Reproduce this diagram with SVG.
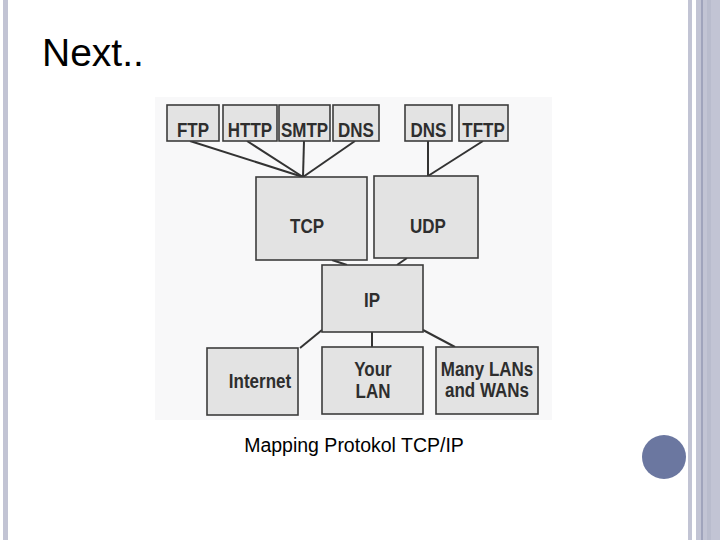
<svg xmlns="http://www.w3.org/2000/svg" width="720" height="540" viewBox="0 0 720 540">
<style>
.box{fill:#e3e3e3;stroke:#3c3c3c;stroke-width:1.6}
.lbl{font-family:"Liberation Sans",Arial,sans-serif;font-weight:bold;font-size:17px;fill:#2e2e2e;text-anchor:middle}
.conn line{stroke:#333;stroke-width:2}
.bar{fill:#c2c4d4}
</style>
<rect width="720" height="540" fill="#ffffff"/>
<rect class="bar" x="3" y="0" width="5" height="540"/>
<rect class="bar" x="688" y="0" width="4" height="540"/>
<rect class="bar" x="696" y="0" width="24" height="540"/>
<rect x="707" y="0" width="4" height="540" fill="#b9bccd"/>
<line x1="702" y1="0" x2="702" y2="540" stroke="#7e84a4" stroke-width="1"/>
<circle cx="664" cy="457" r="22" fill="#6b77a0"/>
<text x="42" y="66" font-family="Liberation Sans,Arial,sans-serif" font-size="39" fill="#000">Next..</text>
<rect x="155" y="97" width="397" height="323" fill="#f8f8f9"/>
<g class="conn">
<line x1="190" y1="141" x2="303" y2="177"/>
<line x1="247" y1="141" x2="303" y2="177"/>
<line x1="304" y1="141" x2="303" y2="177"/>
<line x1="355" y1="141" x2="303" y2="177"/>
<line x1="428" y1="141" x2="428" y2="176"/>
<line x1="483" y1="141" x2="428" y2="176"/>
<line x1="332" y1="260" x2="347" y2="265"/>
<line x1="407" y1="258" x2="397" y2="265"/>
<line x1="322" y1="330" x2="300" y2="348"/>
<line x1="372" y1="332" x2="372" y2="347"/>
<line x1="423" y1="330" x2="455" y2="347"/>
</g>
<g id="ftp"><rect class="box" x="167" y="105" width="52" height="36"/><text class="lbl" transform="translate(193,137) scale(1,1.2)">FTP</text></g>
<g id="http"><rect class="box" x="223" y="105" width="54" height="36"/><text class="lbl" transform="translate(250,137) scale(1,1.2)">HTTP</text></g>
<g id="smtp"><rect class="box" x="279" y="105" width="51" height="36"/><text class="lbl" transform="translate(304.5,137) scale(1,1.2)">SMTP</text></g>
<g id="dns1"><rect class="box" x="333" y="105" width="46" height="36"/><text class="lbl" transform="translate(356,137) scale(1,1.2)">DNS</text></g>
<g id="dns2"><rect class="box" x="405" y="105" width="47" height="36"/><text class="lbl" transform="translate(428.5,137) scale(1,1.2)">DNS</text></g>
<g id="tftp"><rect class="box" x="459" y="105" width="49" height="36"/><text class="lbl" transform="translate(483.5,137) scale(1,1.2)">TFTP</text></g>
<g id="tcp"><rect class="box" x="256" y="177" width="111" height="83"/><text class="lbl" transform="translate(307,233) scale(1,1.2)">TCP</text></g>
<g id="udp"><rect class="box" x="374" y="176" width="104" height="82"/><text class="lbl" transform="translate(428,233) scale(1,1.2)">UDP</text></g>
<g id="ip"><rect class="box" x="322" y="265" width="101" height="67"/><text class="lbl" transform="translate(372,307) scale(1,1.2)">IP</text></g>
<g id="internet"><rect class="box" x="207" y="348" width="91" height="67"/><text class="lbl" transform="translate(260,388) scale(1,1.2)">Internet</text></g>
<g id="yourlan"><rect class="box" x="322" y="347" width="101" height="67"/><text class="lbl" transform="translate(373,376) scale(1,1.2)">Your</text><text class="lbl" transform="translate(373,398) scale(1,1.2)">LAN</text></g>
<g id="manylans"><rect class="box" x="436" y="347" width="102" height="67"/><text class="lbl" transform="translate(487,376) scale(1,1.2)">Many LANs</text><text class="lbl" transform="translate(487,397) scale(1,1.2)">and WANs</text></g>
<text x="354" y="452" font-family="Liberation Sans,Arial,sans-serif" font-size="19.5" fill="#000" text-anchor="middle">Mapping Protokol TCP/IP</text>
</svg>
